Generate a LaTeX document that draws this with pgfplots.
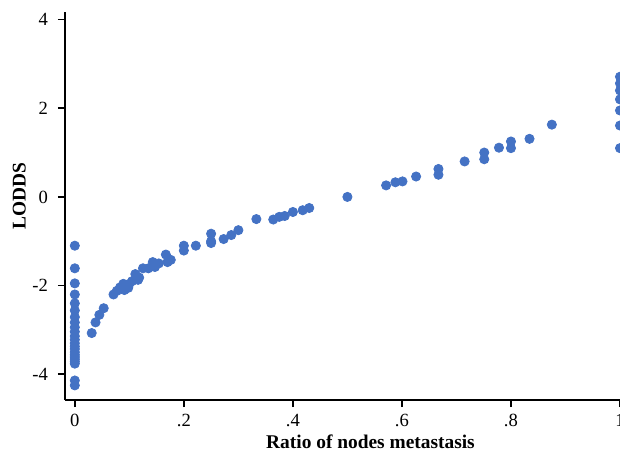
\documentclass[border=0pt]{standalone}
\usepackage{pgfplots}
\pgfplotsset{compat=1.18}
\usepackage{fontspec}
\setmainfont{Liberation Serif}
\definecolor{dotblue}{RGB}{68,114,196}

\pgfplotstableread{
x y
0 -1.10
0 -1.61
0 -1.95
0 -2.20
0 -2.40
0 -2.56
0 -2.71
0 -2.83
0 -2.94
0 -3.04
0 -3.14
0 -3.22
0 -3.30
0 -3.37
0 -3.43
0 -3.50
0 -3.56
0 -3.61
0 -3.66
0 -3.71
0 -3.76
0 -4.14
0 -4.25
0.031 -3.07
0.038 -2.83
0.045 -2.66
0.053 -2.51
0.071 -2.20
0.077 -2.12
0.083 -2.04
0.089 -1.96
0.091 -2.10
0.098 -2.05
0.100 -1.96
0.105 -1.90
0.111 -1.74
0.116 -1.87
0.118 -1.82
0.125 -1.61
0.135 -1.61
0.143 -1.47
0.147 -1.58
0.154 -1.50
0.167 -1.30
0.170 -1.47
0.176 -1.42
0.200 -1.10
0.200 -1.21
0.222 -1.10
0.250 -0.83
0.250 -1.00
0.250 -1.04
0.273 -0.95
0.287 -0.86
0.300 -0.75
0.333 -0.50
0.364 -0.51
0.375 -0.45
0.385 -0.43
0.400 -0.34
0.418 -0.30
0.430 -0.25
0.500 0.00
0.571 0.26
0.588 0.33
0.601 0.35
0.626 0.46
0.667 0.63
0.667 0.50
0.715 0.80
0.751 1.00
0.751 0.85
0.778 1.11
0.800 1.25
0.800 1.10
0.834 1.31
0.875 1.63
1 1.10
1 1.61
1 1.95
1 2.20
1 2.40
1 2.56
1 2.71
}\lodds

\begin{document}
\begin{tikzpicture}
\begin{axis}[
    name=ax,
    scale only axis,
    width=277.5pt, height=194pt,
    xmin=-0.018, xmax=1,
    ymin=-4.58, ymax=4.17,
    axis x line*=bottom,
    axis y line*=left,
    axis line style={line width=0.9pt},
    xtick={0,0.2,0.4,0.6,0.8,1},
    xticklabels={0,.2,.4,.6,.8,1},
    ytick={-4,-2,0,2,4},
    yticklabels={-4,-2,0,2,4},
    tick align=outside,
    major tick length=3.5pt,
    tick style={black, line width=0.8pt},
    font=\fontsize{9.3}{10}\selectfont,
    yticklabel style={xshift=-1.5pt},
    xlabel={\textbf{Ratio of nodes metastasis}},
    ylabel={\textbf{LODDS}},
    label style={font=\fontsize{9.7}{11}\selectfont},
    xlabel style={yshift=3pt, xshift=14pt},
    ylabel style={at={(ticklabel cs:0.526)}, yshift=-3.5pt},
    clip=false,
]
\addplot[only marks, mark=*, mark size=2.3pt, color=dotblue,
         mark options={draw=dotblue, fill=dotblue}]
    table[x=x, y=y] {\lodds};
\end{axis}
\pgfresetboundingbox
\path ([xshift=-32.5pt,yshift=-25pt]ax.south west) rectangle ([yshift=6pt]ax.north east);
\end{tikzpicture}
\end{document}
